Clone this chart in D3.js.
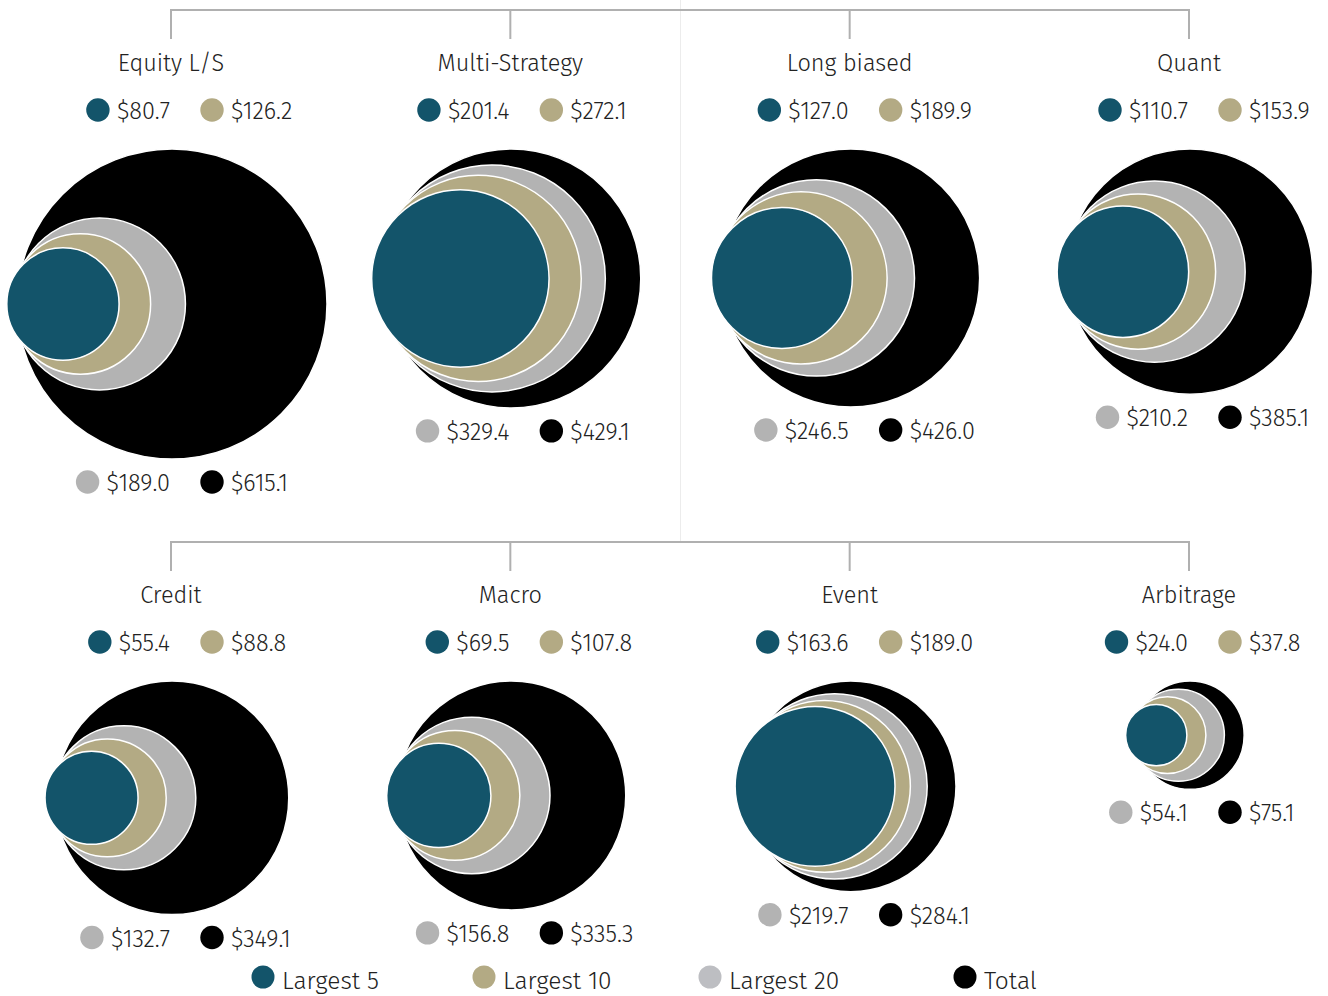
<!DOCTYPE html>
<html>
<head>
<meta charset="utf-8">
<script src="https://cdn.jsdelivr.net/npm/d3@7"></script>
<style>
  body { margin: 0; background: #fff; }
  text { font-family: "Fira Sans", "Open Sans", sans-serif; font-weight: 300; fill: #222; }
</style>
</head>
<body>
<script>
// data, $bn
var strategies = ["Equity L/S", "Multi-Strategy", "Long biased", "Quant", "Credit", "Macro", "Event", "Arbitrage"];
var largest5  = [80.7, 201.4, 127.0, 110.7, 55.4, 69.5, 163.6, 24.0];
var largest10 = [126.2, 272.1, 189.9, 153.9, 88.8, 107.8, 189.0, 37.8];
var largest20 = [189.0, 329.4, 246.5, 210.2, 132.7, 156.8, 219.7, 54.1];
var totals    = [615.1, 429.1, 426.0, 385.1, 349.1, 335.3, 284.1, 75.1];
var seriesNames = ["Largest 5", "Largest 10", "Largest 20", "Total"];

var colors = ["#13546a", "#b3aa84", "#b3b3b3", "#000000"];
var legendColors = ["#13546a", "#b3aa84", "#bdbec2", "#000000"];

var width = 1328, height = 996;
var fs = "23.5px";

var svg = d3.select("body").append("svg")
    .attr("width", width)
    .attr("height", height);

var fmt = function(v) { return "$" + d3.format(".1f")(v); };

var x = d3.scalePoint().domain(d3.range(4)).range([171, 1189]);
var r = d3.scaleSqrt().domain([0, d3.max(totals)]).range([0, 155]);
var rowOffset = [0, 532];

// faint separator
svg.append("line")
    .attr("x1", 680.5).attr("x2", 680.5)
    .attr("y1", 0).attr("y2", 542)
    .style("stroke", "#ececec")
    .style("stroke-width", 1);

// tree connectors
rowOffset.forEach(function(oy) {
  var g = svg.append("g").style("stroke", "#b0b0b0").style("stroke-width", 2).style("fill", "none");
  g.append("line").attr("x1", x(0) - 1).attr("x2", x(3) + 1).attr("y1", 10 + oy).attr("y2", 10 + oy);
  d3.range(4).forEach(function(i) {
    g.append("line").attr("x1", x(i)).attr("x2", x(i)).attr("y1", 10 + oy).attr("y2", 39 + oy);
  });
});

function legendPair(g, cx, y, vals, cols) {
  // left item: right aligned to panel centre
  var t1 = g.append("text")
      .attr("x", cx - 1).attr("y", y + 9)
      .attr("text-anchor", "end")
      .style("font-size", fs)
      .text(fmt(vals[0]));
  var w1 = t1.node().getComputedTextLength();
  g.append("circle")
      .attr("cx", cx - 1 - w1 - 19).attr("cy", y)
      .attr("r", 11.7)
      .style("fill", cols[0]);
  // right item: fixed start
  g.append("circle")
      .attr("cx", cx + 41).attr("cy", y)
      .attr("r", 11.7)
      .style("fill", cols[1]);
  g.append("text")
      .attr("x", cx + 60).attr("y", y + 9)
      .style("font-size", fs)
      .text(fmt(vals[1]));
}

strategies.forEach(function(name, i) {
  var col = i % 4, row = Math.floor(i / 4);
  var cx = x(col), oy = rowOffset[row];
  var g = svg.append("g");

  g.append("text")
      .attr("x", cx).attr("y", 71 + oy)
      .attr("text-anchor", "middle")
      .style("font-size", fs)
      .text(name);

  legendPair(g, cx, 110 + oy, [largest5[i], largest10[i]], [colors[0], colors[1]]);

  // nested circles, outer first
  var vals = [totals[i], largest20[i], largest10[i], largest5[i]];
  var fills = [colors[3], colors[2], colors[1], colors[0]];
  var R = r(totals[i]);
  var cy = 149 + oy + R;
  var left = cx + 1 - R;
  g.selectAll("circle.bub")
    .data(vals)
    .enter()
    .append("circle")
      .attr("class", "bub")
      .attr("cx", function(d, k) { return left - 3.4 * k + r(d); })
      .attr("cy", cy)
      .attr("r", function(d) { return r(d); })
      .style("fill", function(d, k) { return fills[k]; })
      .style("stroke", "#fff")
      .style("stroke-width", 1.5);

  legendPair(g, cx, cy + R + 23, [largest20[i], totals[i]], [colors[2], colors[3]]);
});

// bottom legend
var legendX = [263, 484, 710, 965];
var lg = svg.append("g");
seriesNames.forEach(function(s, i) {
  lg.append("circle")
      .attr("cx", legendX[i]).attr("cy", 977)
      .attr("r", 11.5)
      .style("fill", legendColors[i]);
  lg.append("text")
      .attr("x", legendX[i] + 19).attr("y", 989)
      .style("font-size", "24.5px")
      .text(s);
});
</script>
</body>
</html>
